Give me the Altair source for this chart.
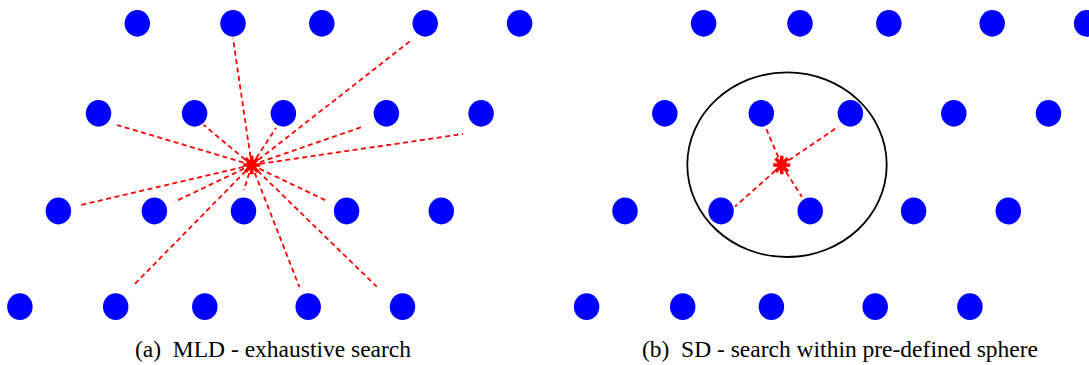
import altair as alt
import pandas as pd

W, H = 1089, 365

# Lattice points: four rows (top to bottom), five points per row, per panel
row_y = [23.3, 113.3, 211.0, 306.7]
a_row_x = [
    [137.3, 233.0, 321.8, 425.2, 519.6],
    [98.5, 194.6, 283.4, 386.4, 481.1],
    [58.4, 154.4, 243.5, 346.6, 441.3],
    [19.9, 115.7, 204.8, 308.2, 402.5],
]
b_row_x = [
    [703.6, 800.0, 888.8, 992.2, 1086.6],
    [664.8, 761.3, 850.4, 953.8, 1048.5],
    [625.0, 721.1, 810.2, 913.6, 1008.3],
    [586.6, 682.7, 771.4, 875.2, 969.9],
]

# Received point (red asterisk) in each panel
rx_x = [251.7, 781.7]
rx_y = [165.0, 165.0]

# Candidate distances evaluated: end points of dashed segments
a_end_x = [233.0, 411.6, 117.0, 203.7, 276.0, 362.7, 463.0, 81.0, 174.7, 244.0, 328.4, 133.8, 299.4, 376.7]
a_end_y = [38.3, 40.0, 125.0, 125.0, 128.0, 126.7, 134.0, 205.0, 201.7, 190.0, 201.7, 285.0, 287.0, 286.7]
b_end_x = [765.0, 838.3, 735.0, 801.7]
b_end_y = [126.0, 126.7, 206.7, 196.7]

# Search sphere in panel (b)
sphere_x = [787.0]
sphere_y = [164.7]

captions = ["(a)\u2002MLD - exhaustive search", "(b)\u2002SD - search within pre-defined sphere"]
caption_x = [273.0, 840.0]
caption_y = [357.0, 357.0]

# ---- tables ----
pts = pd.DataFrame(
    [{"x": x, "y": row_y[r]} for rows in (a_row_x, b_row_x) for r, xs in enumerate(rows) for x in xs]
)
segs = pd.DataFrame(
    [{"x": rx_x[0], "y": rx_y[0], "x2": ex, "y2": ey} for ex, ey in zip(a_end_x, a_end_y)]
    + [{"x": rx_x[1], "y": rx_y[1], "x2": ex, "y2": ey} for ex, ey in zip(b_end_x, b_end_y)]
)
stars = pd.DataFrame({"x": rx_x, "y": rx_y})
sphere = pd.DataFrame({"x": sphere_x, "y": sphere_y})
labels = pd.DataFrame({"x": caption_x, "y": caption_y, "t": captions})

xs = alt.Scale(domain=[0, W], nice=False, zero=False)
ys = alt.Scale(domain=[0, H], nice=False, zero=False, reverse=True)
X = alt.X("x:Q", scale=xs, axis=None)
Y = alt.Y("y:Q", scale=ys, axis=None)

# slightly tall ellipse for the lattice dots
DOT = "M 1 0 C 1 0.58 0.55 1.05 0 1.05 C -0.55 1.05 -1 0.58 -1 0 C -1 -0.58 -0.55 -1.05 0 -1.05 C 0.55 -1.05 1 -0.58 1 0 Z"
# wide ellipse for the search sphere
k = 0.5523
ry_r = 0.926
SPHERE = (
    f"M 1 0 C 1 {k*ry_r:.4f} {k} {ry_r} 0 {ry_r} "
    f"C {-k} {ry_r} -1 {k*ry_r:.4f} -1 0 "
    f"C -1 {-k*ry_r:.4f} {-k} {-ry_r} 0 {-ry_r} "
    f"C {k} {-ry_r} 1 {-k*ry_r:.4f} 1 0 Z"
)
# plus combined with a cross
STAR = "M 0 -1.1 L 0 1.1 M -1 0 L 1 0 M -0.72 -0.8 L 0.72 0.8 M -0.72 0.8 L 0.72 -0.8"

dots = alt.Chart(pts).mark_point(
    shape=DOT, filled=True, size=650, color="#0000ff", opacity=1
).encode(x=X, y=Y)

lines = alt.Chart(segs).mark_rule(
    color="#ff0000", strokeWidth=1.8, strokeDash=[5, 3.5]
).encode(x=X, y=Y, x2="x2:Q", y2="y2:Q")

ring = alt.Chart(sphere).mark_point(
    shape=SPHERE, filled=False, size=199.4 ** 2, stroke="black", strokeWidth=1.8, opacity=1
).encode(x=X, y=Y)

star = alt.Chart(stars).mark_point(
    shape=STAR, filled=False, size=290, stroke="#ff0000", strokeWidth=3.6, opacity=1
).encode(x=X, y=Y)

text = alt.Chart(labels).mark_text(
    font="Liberation Serif", fontSize=23.5, baseline="alphabetic", align="center", color="black"
).encode(x=X, y=Y, text="t:N")

chart = alt.layer(lines, dots, ring, star, text).properties(
    width=W, height=H, padding=0, autosize=alt.AutoSizeParams(type="none"), background="white"
).configure_view(stroke=None)

chart.save("out.html", embed_options={"renderer": "svg", "actions": False})
